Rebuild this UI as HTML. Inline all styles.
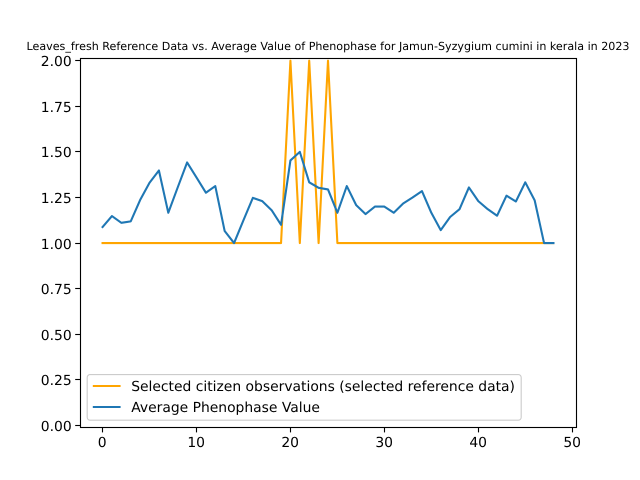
<!DOCTYPE html>
<html>
<head>
<meta charset="utf-8">
<title>Leaves_fresh chart</title>
<style>
html,body{margin:0;padding:0;background:#fff;}
svg{display:block;}
text{font-family:"DejaVu Sans",sans-serif;fill:#000;text-rendering:geometricPrecision;}
</style>
</head>
<body>
<svg id="chart" xmlns="http://www.w3.org/2000/svg" width="640" height="480" viewBox="0 0 640 480">
<rect x="0" y="0" width="640" height="480" fill="#fff"/>
<text x="328" y="50" text-anchor="middle" font-size="11.11">Leaves_fresh Reference Data vs. Average Value of Phenophase for Jamun-Syzygium cumini in kerala in 2023</text>
<g id="x-axis"></g>
<g id="y-axis"></g>
<g id="series"></g>
<rect x="80.5" y="58.5" width="496" height="369" fill="none" stroke="#000" stroke-width="1.11"/>
<g>
<rect x="87.2" y="374.6" width="434" height="45.6" rx="2.8" fill="#fff" fill-opacity="0.8" stroke="#ccc" stroke-width="1.11"/>
<line x1="92.8" x2="120.6" y1="386" y2="386" stroke="#ffa500" stroke-width="2.08"/>
<text x="131.2" y="391" font-size="13.89">Selected citizen observations (selected reference data)</text>
<line x1="92.8" x2="120.6" y1="407" y2="407" stroke="#1f77b4" stroke-width="2.08"/>
<text x="131.2" y="412" font-size="13.89">Average Phenophase Value</text>
</g>
</svg>
<script>
const xTicks = [0, 10, 20, 30, 40, 50];
const yTicks = [0, 0.25, 0.5, 0.75, 1, 1.25, 1.5, 1.75, 2];
const yTickLabels = ["0.00", "0.25", "0.50", "0.75", "1.00", "1.25", "1.50", "1.75", "2.00"];
const selectedObservations = [1,1,1,1,1,1,1,1,1,1,1,1,1,1,1,1,1,1,1,1,2,1,2,1,2,1,1,1,1,1,1,1,1,1,1,1,1,1,1,1,1,1,1,1,1,1,1,1,1];
const averagePhenophase = [1.088,1.148,1.111,1.119,1.236,1.331,1.398,1.166,1.305,1.442,1.36,1.276,1.3125,1.066,1.0,1.125,1.248,1.23,1.18,1.10,1.453,1.5,1.333,1.303,1.294,1.166,1.3125,1.208,1.159,1.2,1.2,1.166,1.217,1.25,1.285,1.166,1.071,1.143,1.186,1.305,1.23,1.186,1.15,1.26,1.228,1.333,1.234,1.0,1.0];

const NS = 'http://www.w3.org/2000/svg';
const plot = {left: 80, right: 576, top: 57.6, bottom: 427.2};
const xDomain = [-2.4, 50.4];
const yDomain = [-0.0094, 2.0168];
function xScale(v) {
  return plot.left + (v - xDomain[0]) / (xDomain[1] - xDomain[0]) * (plot.right - plot.left);
}
function yScale(v) {
  return plot.bottom - (v - yDomain[0]) / (yDomain[1] - yDomain[0]) * (plot.bottom - plot.top);
}
function make(tag, attrs, parent) {
  const el = document.createElementNS(NS, tag);
  for (const k in attrs) el.setAttribute(k, attrs[k]);
  parent.appendChild(el);
  return el;
}
const xAxis = document.getElementById('x-axis');
const yAxis = document.getElementById('y-axis');
const series = document.getElementById('series');

xTicks.forEach(function (t) {
  const px = Math.floor(xScale(t) + 0.45) + 0.5;
  const tick = make('line', {x1: px, x2: px, y1: 427.5, y2: 432.4, stroke: '#000', 'stroke-width': 1.11}, xAxis);
  
  
  const label = make('text', {x: px - 0.3, y: 447, 'text-anchor': 'middle', 'font-size': 13.89}, xAxis);
  
  
  label.textContent = String(t);
});

yTicks.forEach(function (t, i) {
  const raw = yScale(t);
  const py = Math.floor(raw) + 0.5;
  const tick = make('line', {x1: 75.2, x2: 80.5, y1: py, y2: py, stroke: '#000', 'stroke-width': 1.11}, yAxis);
  
  
  const label = make('text', {x: plot.left - 8.3, y: Math.round(raw + 5.6), 'text-anchor': 'end', 'font-size': 13.89}, yAxis);
  
  
  label.textContent = yTickLabels[i];
});

function pointsFor(values) {
  return values.map(function (v, i) {
    return xScale(i).toFixed(2) + ',' + yScale(v).toFixed(2);
  }).join(' ');
}
const orangeLine = make('polyline', {points: pointsFor(selectedObservations), fill: 'none', stroke: '#ffa500', 'stroke-width': 2.08, 'stroke-linejoin': 'round', 'stroke-linecap': 'square'}, series);


const blueLine = make('polyline', {points: pointsFor(averagePhenophase), fill: 'none', stroke: '#1f77b4', 'stroke-width': 2.08, 'stroke-linejoin': 'round', 'stroke-linecap': 'square'}, series);


</script>
</body>
</html>
